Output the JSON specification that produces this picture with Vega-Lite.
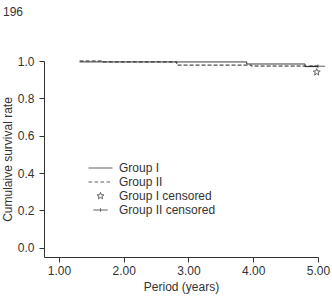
{
  "$schema": "https://vega.github.io/schema/vega-lite/v6.json",
  "width": 274,
  "height": 196,
  "autosize": "none",
  "padding": {"left": 44, "top": 61, "right": 14, "bottom": 40},
  "background": "white",
  "title": {
    "text": "196",
    "anchor": "start",
    "frame": "group",
    "dx": -41,
    "fontSize": 12,
    "fontWeight": "normal",
    "color": "#333",
    "font": "Liberation Sans",
    "offset": 36
  },
  "config": {
    "view": {"stroke": null},
    "font": "Liberation Sans",
    "axis": {
      "grid": false,
      "domainColor": "#333",
      "tickColor": "#333",
      "labelColor": "#333",
      "titleColor": "#333",
      "labelFontSize": 12,
      "titleFontSize": 12,
      "titleFontWeight": "normal",
      "tickSize": 5,
      "labelOverlap": false,
      "labelFlush": false,
      "labelBound": false,
      "labelFont": "Liberation Sans",
      "titleFont": "Liberation Sans"
    }
  },
  "datasets": {
    "curves": [
      {"group": "Group I", "year": 1.32, "survival": 0.995},
      {"group": "Group I", "year": 3.9, "survival": 0.984},
      {"group": "Group I", "year": 4.8, "survival": 0.97},
      {"group": "Group I", "year": 5.0, "survival": 0.97},
      {"group": "Group II", "year": 1.32, "survival": 1.0},
      {"group": "Group II", "year": 1.68, "survival": 0.995},
      {"group": "Group II", "year": 2.82, "survival": 0.978},
      {"group": "Group II", "year": 3.97, "survival": 0.973},
      {"group": "Group II", "year": 5.0, "survival": 0.973}
    ],
    "censored": [
      {"series": "Group I censored", "year": 4.98, "survival": 0.94},
      {"series": "Group II censored", "year": 5.0, "survival": 0.972}
    ]
  },
  "layer": [
    {
      "data": {"name": "curves"},
      "mark": {"type": "line", "interpolate": "step-after", "color": "#222", "strokeWidth": 1},
      "encoding": {
        "x": {
          "field": "year", "type": "quantitative",
          "scale": {"domain": [0.77, 5.0], "nice": false, "zero": false},
          "axis": {"values": [1, 2, 3, 4, 5], "tickCount": 10, "format": ".2f", "title": "Period (years)", "labelPadding": 3, "titlePadding": 5}
        },
        "y": {
          "field": "survival", "type": "quantitative",
          "scale": {"domain": [-0.05, 1.0], "nice": false, "zero": false},
          "axis": {"values": [0, 0.2, 0.4, 0.6, 0.8, 1.0], "tickCount": 10, "format": ".1f", "title": "Cumulaive survival rate", "labelPadding": 5, "titlePadding": 3}
        },
        "strokeDash": {
          "field": "group", "type": "nominal",
          "scale": {"domain": ["Group I", "Group II"], "range": [[1, 0], [4, 2]]},
          "legend": null
        },
        "detail": {"field": "group"}
      }
    },
    {
      "data": {"name": "censored"},
      "mark": {"type": "point", "filled": false, "color": "#222", "strokeWidth": 1, "size": 576},
      "encoding": {
        "x": {"field": "year", "type": "quantitative"},
        "y": {"field": "survival", "type": "quantitative"},
        "shape": {
          "field": "series", "type": "nominal",
          "scale": {
            "domain": ["Group I", "Group II", "Group I censored", "Group II censored"],
            "range": [
              "M-1,0H1",
              "M-1,0H-0.7M-0.5,0H-0.2M0,0H0.3M0.5,0H0.8",
              "M0,-0.3L0.07,-0.1L0.29,-0.09L0.12,0.04L0.18,0.24L0,0.12L-0.18,0.24L-0.12,0.04L-0.29,-0.09L-0.07,-0.1Z",
              "M-0.6,0H0.6M0,-0.15V0.15"
            ]
          },
          "legend": {
            "title": null,
            "orient": "none",
            "legendX": 44,
            "legendY": 100,
            "labelFontSize": 12,
            "labelColor": "#333",
            "labelFont": "Liberation Sans",
            "symbolStrokeColor": "#222",
            "symbolFillColor": "transparent",
            "symbolStrokeWidth": 1,
            "symbolSize": 576,
            "clipHeight": 14,
            "rowPadding": 0,
            "labelOffset": 6
          }
        }
      }
    }
  ]
}
